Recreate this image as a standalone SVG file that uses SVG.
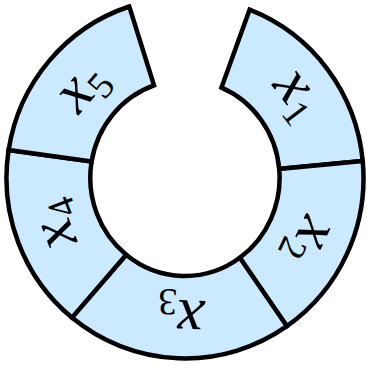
<svg xmlns="http://www.w3.org/2000/svg" width="367" height="365" viewBox="0 0 367 365">
<style>
.seg{fill:#cceaff;stroke:#000;stroke-width:4.5;stroke-linejoin:miter}
.lbl{font-family:"Liberation Serif","DejaVu Serif",serif;font-size:62px;fill:#000;text-anchor:middle}
.v{font-style:italic}
.s{font-size:38px;font-style:normal}
</style>
<rect width="367" height="365" fill="#fff"/>
<g id="seg-x1">
<path class="seg" d="M249.6,9.7 A178.5,180.5 0 0 1 362.7,160.9 L279.2,168.9 A94.5,98 0 0 0 221.5,87.6 Z"/>
<g transform="translate(296,96) rotate(52.75)"><text class="lbl" x="0" y="13"><tspan class="v">x</tspan><tspan class="s" dy="10">1</tspan></text></g>
</g>
<g id="seg-x2">
<path class="seg" d="M362.7,160.9 A178.5,180.5 0 0 1 286.9,326.2 L239.8,257.8 A94.5,98 0 0 0 279.2,168.9 Z"/>
<g transform="translate(308,240) rotate(115)"><text class="lbl" x="0" y="13"><tspan class="v">x</tspan><tspan class="s" dy="10">2</tspan></text></g>
</g>
<g id="seg-x3">
<path class="seg" d="M286.9,326.2 A178.5,180.5 0 0 1 71.9,317.6 L126.2,254.7 A94.5,98 0 0 0 239.8,257.8 Z"/>
<g transform="translate(181,313) rotate(182.25)"><text class="lbl" x="0" y="13"><tspan class="v">x</tspan><tspan class="s" dy="10">3</tspan></text></g>
</g>
<g id="seg-x4">
<path class="seg" d="M71.9,317.6 A178.5,180.5 0 0 1 8.6,150.1 L91.6,161.5 A94.5,98 0 0 0 126.2,254.7 Z"/>
<g transform="translate(57,224) rotate(249)"><text class="lbl" x="0" y="13"><tspan class="v">x</tspan><tspan class="s" dy="10">4</tspan></text></g>
</g>
<g id="seg-x5">
<path class="seg" d="M8.6,150.1 A178.5,180.5 0 0 1 129.3,6.5 L154,85.4 A94.5,98 0 0 0 91.6,161.5 Z"/>
<g transform="translate(84,89) rotate(-49.5)"><text class="lbl" x="0" y="13"><tspan class="v">x</tspan><tspan class="s" dy="10">5</tspan></text></g>
</g>
<g id="connectors"></g>
</svg>
